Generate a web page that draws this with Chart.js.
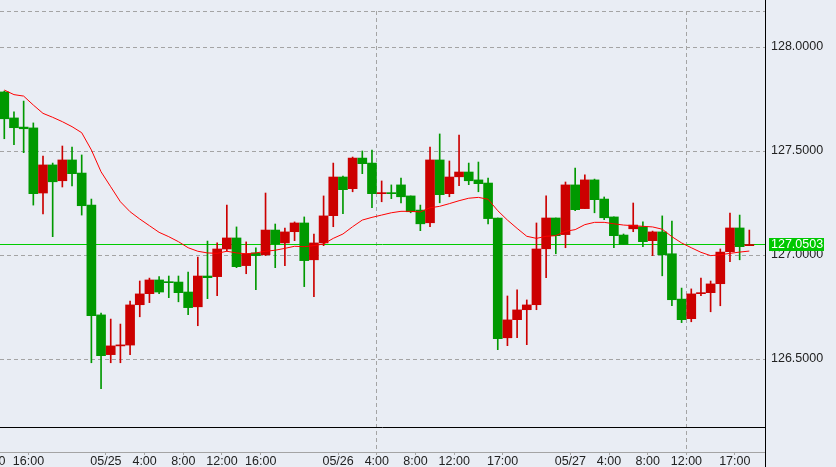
<!DOCTYPE html>
<html><head><meta charset="utf-8">
<script src="https://cdn.jsdelivr.net/npm/chart.js@4/dist/chart.umd.min.js"></script>
<style>html,body{margin:0;padding:0;background:#e9edf4;overflow:hidden}#wrap{width:836px;height:467px}</style>
</head><body><div id="wrap"><canvas id="c" width="836" height="467"></canvas></div>
<script>
// Hourly candles, 05/24 13:00 .. 05/27 18:00
const TIMES = [
"05/24 13:00","05/24 14:00","05/24 15:00","05/24 16:00","05/24 17:00","05/24 18:00","05/24 19:00","05/24 20:00","05/24 21:00","05/24 22:00","05/24 23:00",
"05/25 0:00","05/25 1:00","05/25 2:00","05/25 3:00","05/25 4:00","05/25 5:00","05/25 6:00","05/25 7:00","05/25 8:00","05/25 9:00","05/25 10:00","05/25 11:00",
"05/25 12:00","05/25 13:00","05/25 14:00","05/25 15:00","05/25 16:00","05/25 17:00","05/25 18:00","05/25 19:00","05/25 20:00","05/25 21:00","05/25 22:00","05/25 23:00",
"05/26 0:00","05/26 1:00","05/26 2:00","05/26 3:00","05/26 4:00","05/26 5:00","05/26 6:00","05/26 7:00","05/26 8:00","05/26 9:00","05/26 10:00","05/26 11:00",
"05/26 12:00","05/26 13:00","05/26 14:00","05/26 15:00","05/26 16:00","05/26 17:00","05/26 18:00","05/26 19:00","05/26 20:00","05/26 21:00","05/26 22:00","05/26 23:00",
"05/27 0:00","05/27 1:00","05/27 2:00","05/27 3:00","05/27 4:00","05/27 5:00","05/27 6:00","05/27 7:00","05/27 8:00","05/27 9:00","05/27 10:00","05/27 11:00",
"05/27 12:00","05/27 13:00","05/27 14:00","05/27 15:00","05/27 16:00","05/27 17:00","05/27 18:00"];

const OPEN = [127.784,127.659,127.615,127.611,127.298,127.433,127.357,127.457,127.394,127.240,
126.712,126.521,126.563,126.567,126.761,126.814,126.880,126.870,126.870,126.822,
126.751,126.899,126.896,127.029,127.082,126.949,127.010,127.001,127.120,127.058,
127.112,127.154,126.977,127.058,127.189,127.375,127.319,127.466,127.442,127.295,
127.298,127.337,127.284,127.216,127.155,127.457,127.295,127.376,127.399,127.361,
127.346,127.178,126.602,126.689,126.737,126.761,127.030,127.178,127.098,127.337,
127.223,127.361,127.269,127.183,127.096,127.126,127.136,127.069,127.111,127.006,
126.788,126.694,126.814,126.819,126.862,127.016,127.130,127.045];

const HIGH = [127.788,127.688,127.740,127.635,127.476,127.442,127.524,127.519,127.481,127.269,
126.721,126.692,126.668,126.779,126.875,126.889,126.896,126.899,126.899,126.918,
126.990,127.067,127.058,127.240,127.135,127.063,127.035,127.298,127.149,127.130,
127.159,127.183,127.101,127.284,127.442,127.380,127.471,127.500,127.505,127.356,
127.337,127.370,127.284,127.240,127.519,127.582,127.452,127.577,127.442,127.447,
127.370,127.178,126.803,126.832,126.784,127.154,127.284,127.178,127.351,127.418,
127.385,127.365,127.279,127.183,127.101,127.250,127.159,127.115,127.188,127.163,
126.841,126.837,126.889,126.875,127.029,127.202,127.192,127.120];

const LOW = [127.559,127.530,127.492,127.240,127.197,127.088,127.327,127.332,127.192,126.482,
126.357,126.482,126.482,126.521,126.703,126.771,126.814,126.795,126.775,126.713,
126.660,126.790,126.804,127.019,126.939,126.910,126.833,126.997,126.939,126.949,
127.069,126.848,126.800,127.045,127.136,127.199,127.304,127.391,127.227,127.256,
127.271,127.251,127.203,127.117,127.136,127.251,127.280,127.333,127.338,127.304,
127.150,126.545,126.564,126.602,126.569,126.737,126.891,127.006,127.035,127.213,
127.223,127.203,127.170,127.035,127.051,127.112,127.040,126.997,126.900,126.756,
126.675,126.679,126.804,126.727,126.756,126.968,126.977,127.045];

const CLOSE = [127.655,127.612,127.607,127.295,127.433,127.352,127.457,127.391,127.237,126.708,
126.516,126.563,126.567,126.760,126.813,126.880,126.822,126.867,126.819,126.747,
126.899,126.891,127.029,127.082,126.944,127.006,126.997,127.120,127.053,127.111,
127.154,126.973,127.058,127.188,127.375,127.314,127.466,127.439,127.295,127.298,
127.295,127.280,127.208,127.150,127.457,127.290,127.375,127.399,127.357,127.343,
127.175,126.598,126.688,126.736,126.760,127.029,127.178,127.093,127.337,127.218,
127.361,127.266,127.179,127.093,127.051,127.144,127.064,127.111,127.001,126.785,
126.689,126.813,126.819,126.861,127.014,127.130,127.040,127.0503];

const MA = [127.793,127.771,127.764,127.721,127.681,127.662,127.641,127.617,127.588,127.505,
127.400,127.328,127.256,127.208,127.173,127.141,127.109,127.088,127.064,127.035,
127.018,127.010,127.008,127.018,127.010,127.006,127.010,127.018,127.023,127.032,
127.042,127.040,127.045,127.053,127.080,127.101,127.136,127.168,127.181,127.192,
127.203,127.210,127.210,127.207,127.227,127.234,127.247,127.261,127.273,127.277,
127.268,127.213,127.168,127.128,127.090,127.080,127.090,127.093,127.114,127.122,
127.146,127.157,127.157,127.150,127.144,127.141,127.138,127.135,127.124,127.088,
127.058,127.035,127.013,126.997,127.001,127.008,127.014,127.019];

// x tick labels (positioned at hour boundaries, in candle-index units)
const X_TICK_POS = [-1.5, 2.5, 10.5, 14.5, 18.5, 22.5, 26.5, 34.5, 38.5, 42.5, 46.5, 51.5, 58.5, 62.5, 66.5, 70.5, 75.5];
const X_TICK_LABELS = ["12:00","16:00","05/25","4:00","8:00","12:00","16:00","05/26","4:00","8:00","12:00","17:00","05/27","4:00","8:00","12:00","17:00"];
const X_GRID_LABEL_IDX = [8, 15];
const Y_TICKS = [126.5, 127.0, 127.5, 128.0];

const XMIN = -0.444, XMAX = 78.62;
const YMIN = 126.0529, YMAX = 128.1731;
const PANE_SPLIT = 126.1731;

const UP = '#cc0000', DOWN = '#009900';
const FAMILY = "'Liberation Sans', Arial, sans-serif";
const FSIZE = 12.5;

const colorOf = i => CLOSE[i] >= OPEN[i] ? UP : DOWN;

const overlay = {
  id: 'overlay',
  beforeDatasetsDraw(chart) {
    const {ctx, chartArea: a, scales: {y}} = chart;
    const py = Math.floor(y.getPixelForValue(CLOSE[CLOSE.length - 1])) + 0.5;
    ctx.save();
    ctx.strokeStyle = '#00cc00'; ctx.lineWidth = 1;
    ctx.beginPath(); ctx.moveTo(a.left, py); ctx.lineTo(a.right, py); ctx.stroke();
    ctx.restore();
  },
  afterDraw(chart) {
    const {ctx, chartArea: a, scales: {y}} = chart;
    ctx.save();
    ctx.strokeStyle = '#000'; ctx.lineWidth = 1;
    const sy = Math.round(y.getPixelForValue(PANE_SPLIT)) + 0.5;
    ctx.beginPath(); ctx.moveTo(a.left, sy); ctx.lineTo(a.right, sy); ctx.stroke();
    ctx.beginPath(); ctx.moveTo(a.right + 0.5, 0); ctx.lineTo(a.right + 0.5, chart.height); ctx.stroke();
    const last = CLOSE[CLOSE.length - 1];
    const py = Math.floor(y.getPixelForValue(last));
    ctx.fillStyle = '#00c800';
    ctx.fillRect(a.right + 4, py - 6, 55, 13);
    ctx.fillStyle = '#ffffff';
    ctx.font = FSIZE + 'px ' + FAMILY;
    ctx.textBaseline = 'middle'; ctx.textAlign = 'left';
    ctx.fillText(last.toFixed(4), a.right + 6, py + 1);
    ctx.restore();
  }
};

new Chart(document.getElementById('c'), {
  data: {
    datasets: [
      { type: 'line', order: 0, data: MA.map((v, i) => ({x: i, y: v})),
        borderColor: '#ff0000', borderWidth: 1, pointRadius: 0, tension: 0, fill: false },
      { type: 'bar', order: 1, data: OPEN.map((o, i) => ({x: i, y: [o, CLOSE[i]]})),
        backgroundColor: c => colorOf(c.dataIndex), borderWidth: 0, barThickness: 9, minBarLength: 1, grouped: false },
      { type: 'bar', order: 2, data: LOW.map((l, i) => ({x: i, y: [l, HIGH[i]]})),
        backgroundColor: c => colorOf(c.dataIndex), borderWidth: 0, barThickness: 1, grouped: false }
    ]
  },
  options: {
    responsive: false, animation: false, devicePixelRatio: 1,
    layout: { padding: { top: 11, left: 0, right: 0, bottom: 0 } },
    plugins: { legend: { display: false }, tooltip: { enabled: false } },
    scales: {
      x: {
        type: 'linear', min: XMIN, max: XMAX, offset: false,
        afterBuildTicks: s => { s.ticks = X_TICK_POS.map(v => ({value: v})); },
        afterFit: s => { s.height = 15; s.paddingLeft = 0; s.paddingRight = 0; },
        grid: { offset: false, color: c => X_GRID_LABEL_IDX.includes(c.index) ? '#a4a4a4' : 'rgba(0,0,0,0)',
                tickColor: '#a4a4a4', tickLength: 3, drawTicks: true, lineWidth: 1 },
        border: { display: true, color: '#a4a4a4', width: 1, dash: [4, 3] },
        ticks: { autoSkip: false, maxRotation: 0, minRotation: 0, padding: 0,
                 color: '#222', font: { family: FAMILY, size: FSIZE, lineHeight: 1 },
                 callback: (v, i) => X_TICK_LABELS[i] }
      },
      y: {
        type: 'linear', position: 'right', min: YMIN, max: YMAX,
        afterBuildTicks: s => { s.ticks = Y_TICKS.concat([YMAX]).map(v => ({value: v})); },
        afterFit: s => { s.width = 71; s.paddingTop = 0; s.paddingBottom = 0; },
        grid: { color: '#a4a4a4', drawTicks: false, lineWidth: 1 },
        border: { display: false, dash: [4, 3] },
        ticks: { padding: 6, color: '#222', font: { family: FAMILY, size: FSIZE },
                 callback: v => (v === YMAX ? '' : v.toFixed(4)) }
      }
    }
  },
  plugins: [overlay]
});
</script>
</body></html>
